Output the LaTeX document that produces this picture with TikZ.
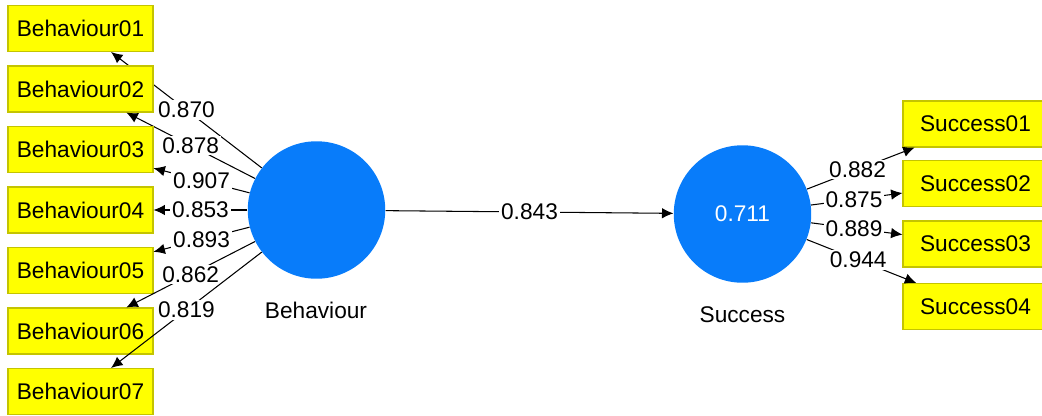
\documentclass[tikz,border=0pt]{standalone}
\usepackage{fontspec}
\setmainfont{Liberation Sans}
\usepackage{xcolor}
\usetikzlibrary{arrows.meta,positioning}

\definecolor{indyellow}{RGB}{255,255,0}
\definecolor{indborder}{RGB}{196,196,0}
\definecolor{latblue}{RGB}{8,124,250}

\begin{document}
\begin{tikzpicture}[x=0.02cm, y=-0.02cm, font=\fontsize{12.9}{15}\selectfont,
    indicator/.style={rectangle, draw=indborder, fill=indyellow, line width=0.6pt,
        minimum width=2.9cm, minimum height=0.92cm, inner sep=0pt},
    latent/.style={circle, fill=latblue, minimum size=2.75cm, inner sep=0pt, text=white},
    loading/.style={draw=black, line width=0.6pt, -{Latex[length=6.5pt,width=6pt]}},
    weight/.style={fill=white, inner sep=1pt}]

    \useasboundingbox (0,0) rectangle (1042,416);
    \clip (0,0) rectangle (1042,416);

    % Latent variables
    \node[latent] (beh) at (316.5,210) {};
    \node[latent] (suc) at (742.5,214) {0.711};
    \node (behname) at (316,310) {Behaviour};
    \node (sucname) at (742.5,315) {Success};

    % Structural path
    \draw[loading] (beh) -- node[weight, pos=0.5] {0.843} (suc);

    % Behaviour indicators (outer loadings)
    \foreach \i/\y/\v in {1/28.5/0.870, 2/89/0.878, 3/149.5/0.907, 4/210/0.853,
                          5/270.5/0.893, 6/331/0.862, 7/391.5/0.819} {
        \node[indicator] (b\i) at (80.5,\y) {Behaviour0\i};
        \draw[loading] (beh) -- node[weight, pos=0.5] {\v} (b\i);
    }

    % Success indicators
    \foreach \i/\y/\v in {1/124/0.882, 2/183.5/0.875, 3/244/0.889, 4/306.5/0.944} {
        \node[indicator] (s\i) at (975.5,\y) {Success0\i};
        \draw[loading] (suc) -- node[weight, pos=0.47] {\v} (s\i);
    }
\end{tikzpicture}
\end{document}
